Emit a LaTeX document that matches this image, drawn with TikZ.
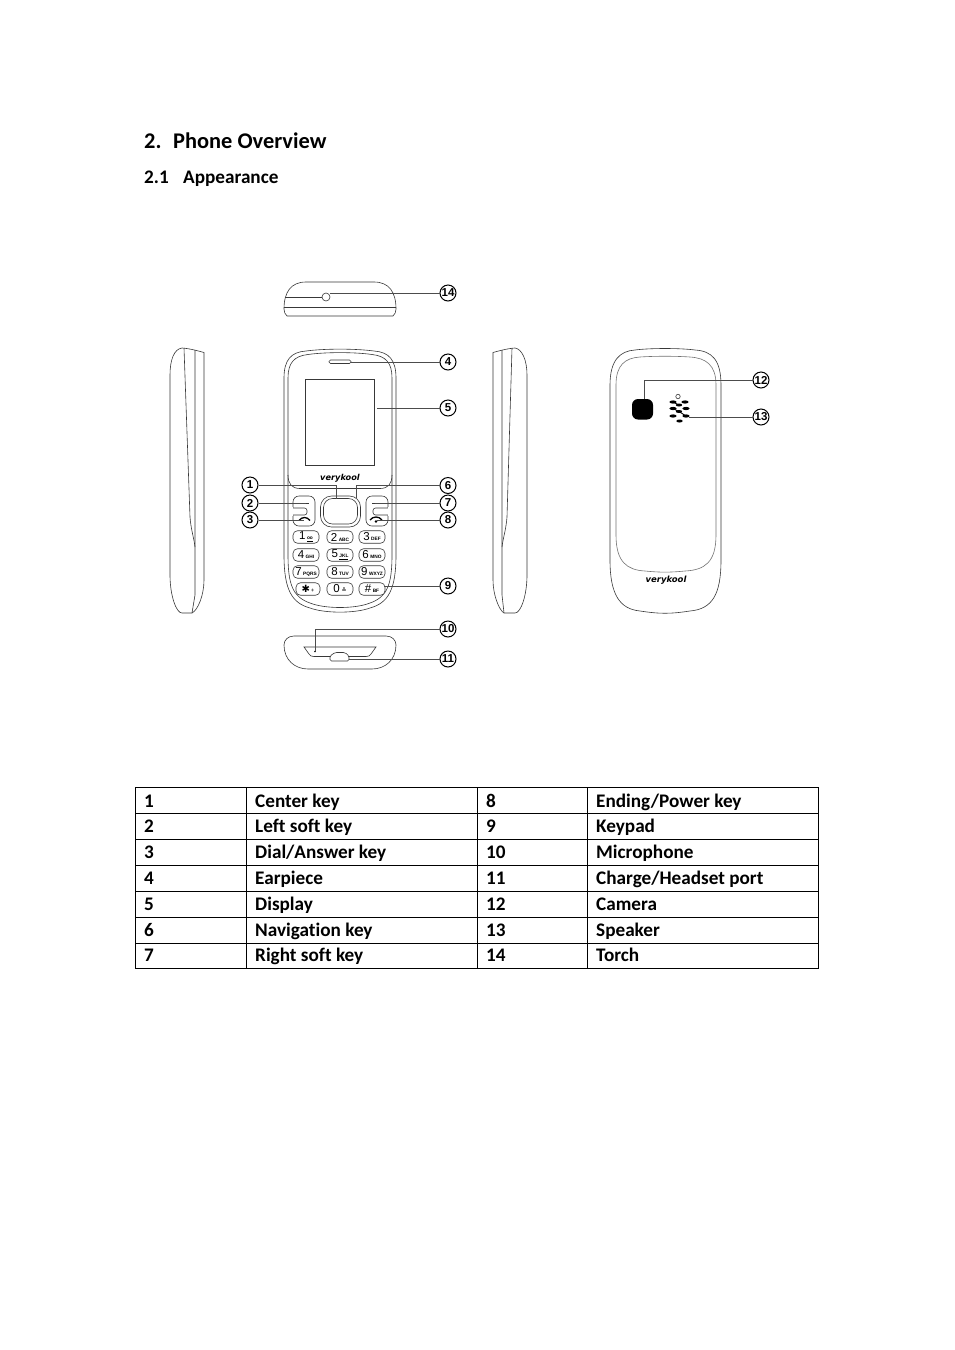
\documentclass[tikz,border=0pt]{standalone}
\usepackage{fontspec}
\setmainfont{Carlito}[Ligatures=NoCommon]
\newfontfamily\logofont{DejaVu Sans}
\newfontfamily\numfont{Liberation Sans}
\usetikzlibrary{calc}
\tikzset{
  ln/.style={draw=black!78,line width=.6pt},
  lead/.style={draw=black!70,line width=.7pt},
  callout/.style={circle,draw=black,line width=1pt,fill=white,minimum size=16pt,inner sep=0pt,font=\fontsize{11.5}{11}\numfont\bfseries},
  cell/.style={anchor=base west,inner sep=0pt,font=\fontsize{19.2}{20}\selectfont\bfseries},
  keycap/.style={draw=black!78,line width=.6pt,rounded corners=4.5pt,minimum width=26pt,minimum height=12.5pt,inner sep=0pt,fill=white,font=\fontsize{11.5}{10}\numfont},
  logo/.style={inner sep=0pt,font=\fontsize{8.2}{9}\logofont\bfseries\itshape},
}
\newcommand{\kl}[2]{#1\hspace{1.5pt}{\fontsize{4.8}{5}\selectfont\bfseries #2}}
\begin{document}
\begin{tikzpicture}[x=1pt,y=-1pt]
\useasboundingbox (0,0) rectangle (954,1350);
\fill[white] (0,0) rectangle (954,1350);
% headings
\node[cell,font=\fontsize{22.4}{22}\selectfont\bfseries] (h1n) at (144,148) {2.};
\node[cell,font=\fontsize{22.4}{22}\selectfont\bfseries] (h1) at (173,148) {Phone Overview};
\node[cell,font=\fontsize{19.2}{20}\selectfont\bfseries] (h2n) at (144,183) {2.1};
\node[cell,font=\fontsize{19.2}{20}\selectfont\bfseries] (h2) at (183,183) {Appearance};

% top view
\draw[ln] (284,309) .. controls (284,292) and (291,282) .. (306,282) -- (374,282) .. controls (389,282) and (396,292) .. (396,309) .. controls (396,312) and (395,314) .. (393,316) -- (287,316) .. controls (285,314) and (284,312) .. (284,309) -- cycle;
\draw[ln] (285,297) -- (322,297);
\draw[ln] (326,297) circle (4);
\draw[ln] (284,307.5) -- (396,307.5);

% left side view
\draw[ln] (204,352.5) .. controls (192,349) and (184,348) .. (182,348) .. controls (174,349) and (170,360) .. (170,375) -- (170,575) .. controls (170,595) and (176,613) .. (182,613) -- (192,613) .. controls (198,610) and (204,595) .. (204,580) -- cycle;
\draw[ln] (184,348) -- (190,517) .. controls (191,530) and (194,538) .. (195,547);
\draw[ln] (195,350) -- (195,595) -- (192,613);

% right side view
\draw[ln] (493,352.5) .. controls (505,349) and (513,348) .. (515,348) .. controls (522,349) and (527,360) .. (527,375) -- (527,575) .. controls (527,595) and (521,613) .. (515,613) -- (504,613) .. controls (499,610) and (493,595) .. (493,580) -- cycle;
\draw[ln] (512,348) -- (507,517) .. controls (506,530) and (503,538) .. (502,547);
\draw[ln] (502,350) -- (502,595) -- (504,613);

% front view
\draw[ln] (284,378) .. controls (284,360) and (291,352) .. (306,351) .. controls (325,348.5) and (355,348.5) .. (374,351) .. controls (389,352) and (396,360) .. (396,378) -- (396,555) .. controls (396,590) and (388,603) .. (370,608) .. controls (355,613.5) and (325,613.5) .. (310,608) .. controls (292,603) and (284,590) .. (284,555) -- cycle;
\draw[ln] (288,378) .. controls (288,363) and (294,356) .. (308,354.5) .. controls (325,352) and (355,352) .. (372,354.5) .. controls (386,356) and (392,363) .. (392,378) -- (392,555) .. controls (392,585) and (387,597) .. (370,603) .. controls (355,609) and (325,609) .. (310,603) .. controls (293,597) and (288,585) .. (288,555) -- cycle;
\draw[ln] (288,475) .. controls (288,484) and (292,488.5) .. (300,488.5) -- (380,488.5) .. controls (388,488.5) and (392,484) .. (392,475);
\draw[ln,rounded corners=1.5pt] (329,360) rectangle (351,363.5);
\node[draw=black!78,line width=.6pt,inner sep=0pt,minimum width=69.5pt,minimum height=86pt] (screen) at (340,422) {};
\node[logo] (flogo) at (340,478) {verykool};

% soft keys
\draw[ln,rounded corners=6pt] (293,496) rectangle (315,526);
\draw[ln,rounded corners=6pt] (366,496) rectangle (388,526);
\draw[ln,fill=white,rounded corners=2.5pt] (292,508) -- (307,508) -- (307,515) -- (292,515);
\draw[ln,fill=white,rounded corners=2.5pt] (389,508) -- (373,508) -- (373,515) -- (389,515);
\fill[white] (291,507) rectangle (293.0,516);
\fill[white] (388.0,507) rectangle (390,516);
\draw[ln,line width=.9pt] (300,503.5) -- (309,503.5);
\draw[ln,line width=.9pt] (372,503.5) -- (385,503.5);
\draw[draw=black,line width=1.3pt] (299,520.5) .. controls (302,516.5) and (307,516.5) .. (310,520.5);
\draw[draw=black,line width=1.3pt] (370,520) .. controls (373,516) and (379,516) .. (382,520);
\fill[black] (376,521.5) circle (1.3);
% nav
\draw[ln,rounded corners=11pt] (320.5,496) rectangle (360.5,527);
\draw[ln,rounded corners=9pt] (323.5,498.5) rectangle (357.5,524);

% keypad
\node[keycap] (k1) at (306,537) {\kl{1}{\underline{oo}}};
\node[keycap] (k2) at (340,537) {\kl{2}{ABC}};
\node[keycap] (k3) at (372,537) {\kl{3}{DEF}};
\node[keycap] (k4) at (306,555) {\kl{4}{GHI}};
\node[keycap] (k5) at (340,555) {\kl{5}{\underline{JKL}}};
\node[keycap] (k6) at (372,555) {\kl{6}{MNO}};
\node[keycap] (k7) at (306,572) {\kl{7}{PQRS}};
\node[keycap] (k8) at (340,572) {\kl{8}{TUV}};
\node[keycap] (k9) at (372,572) {\kl{9}{WXYZ}};
\node[keycap,minimum width=24pt] (kstar) at (308,589) {{\logofont\fontsize{10}{10}\selectfont ✱}{\fontsize{6}{6}\selectfont\,+}};
\node[keycap] (k0) at (340,589) {0\hspace{2pt}{\logofont\fontsize{6}{6}\selectfont ≚}};
\node[keycap] (khash) at (372,589) {\kl{\#}{BF}};

% bottom view
\draw[ln] (284,645) .. controls (284,640) and (288,636) .. (294,636) -- (386,636) .. controls (392,636) and (396,640) .. (396,645) .. controls (396,660) and (385,669) .. (372,669) -- (308,669) .. controls (295,669) and (284,660) .. (284,645) -- cycle;
\draw[ln] (304,647) -- (376,647) -- (371,654) .. controls (370,656) and (368,656.5) .. (366,656.5) -- (314,656.5) .. controls (312,656.5) and (310,656) .. (309,654) -- cycle;
\draw[ln,fill=white,rounded corners=1.5pt] (330,661) -- (330,656) -- (335,652.5) -- (345,652.5) -- (349,656) -- (349,661) -- cycle;
\fill (315,651.5) circle (.9);

% back view
\draw[ln] (610,385) .. controls (610,360) and (620,351) .. (635,350) .. controls (650,348) and (680,348) .. (695,350) .. controls (712,351) and (721,360) .. (721,385) -- (721,560) .. controls (721,595) and (712,609) .. (690,611) .. controls (670,614) and (660,614) .. (640,611) .. controls (620,609) and (610,595) .. (610,560) -- cycle;
\draw[ln,draw=black!55] (616,385) .. controls (616,365) and (625,358) .. (640,357) .. controls (655,356) and (675,356) .. (690,357) .. controls (706,358) and (716,365) .. (716,385) -- (716,535) .. controls (716,562) and (705,570) .. (685,571) .. controls (670,572.5) and (660,572.5) .. (645,571) .. controls (627,570) and (616,562) .. (616,535) -- cycle;
\fill[black,rounded corners=6pt] (632,399) rectangle (653,419.5);
\draw[ln] (678,396.5) circle (2.2);
\foreach \p/\q in {673/402,685/402,673/408.5,686/408.5,673/416,686/416}{
  \fill[black] (\p,\q) ellipse (3.6 and 1.6);}
\foreach \p/\q in {679/405,679/411.5,679.5/421}{
  \fill[black] (\p,\q) ellipse (3.2 and 1.5);}
\draw[black,line width=.9pt] (673,402) -- (679,405) (679,411.5) -- (686,416) (673,408.5) -- (679,411.5);
\node[logo,font=\fontsize{8.5}{9}\logofont\bfseries\itshape] (blogo) at (666,580) {verykool};

% callouts
\node[callout] (c14) at (448,293) {14};
\node[callout] (c4) at (448,362) {4};
\node[callout] (c5) at (448,408) {5};
\node[callout] (c1) at (250,485) {1};
\node[callout] (c2) at (250,503) {2};
\node[callout] (c3) at (250,520) {3};
\node[callout] (c6) at (448,485.5) {6};
\node[callout] (c7) at (448,503) {7};
\node[callout] (c8) at (448,520) {8};
\node[callout] (c9) at (448,586) {9};
\node[callout] (c10) at (448,629) {10};
\node[callout] (c11) at (448,659) {11};
\node[callout] (c12) at (761,380) {12};
\node[callout] (c13) at (761,417) {13};

\coordinate (t14) at (330,293);
\coordinate (t4) at (351,362);
\coordinate (t5) at (377,408);
\coordinate (t1) at (336,499);
\coordinate (t2) at (306,503);
\coordinate (t3) at (304,520);
\coordinate (t6) at (356,498);
\coordinate (t7) at (375,503);
\coordinate (t8) at (377,520);
\coordinate (t9) at (384,586);
\coordinate (t10) at (315,651);
\coordinate (t11) at (349,659);
\coordinate (t12) at (644,399);
\coordinate (t13) at (689,417);

\draw[lead] (c14) -- (t14);
\draw[lead] (c4) -- (t4);
\draw[lead] (c5) -- (t5);
\draw[lead] (c1) -- (t1 |- c1) -- (t1);
\draw[lead] (c2) -- (t2);
\draw[lead] (c3) -- (t3);
\draw[lead] (c6) -- (t6 |- c6) -- (t6);
\draw[lead] (c7) -- (t7);
\draw[lead] (c8) -- (t8);
\draw[lead] (c9) -- (t9);
\draw[lead] (c10) -- (t10 |- c10) -- (t10);
\draw[lead] (c11) -- (t11);
\draw[lead] (c12) -- (t12 |- c12) -- (t12);
\draw[lead] (c13) -- (t13);

% table
\draw[black,line width=.8pt] (135.5,787.5) rectangle (818.5,968.5);
\foreach \y in {813.5,839.5,865.5,891.5,917,943}{\draw[black,line width=.8pt] (135.5,\y) -- (818.5,\y);}
\foreach \x in {246.5,477.5,587.5}{\draw[black,line width=.8pt] (\x,787.5) -- (\x,968.5);}
\foreach \i/\a/\b/\c/\d/\y in {a/1/Center key/8/Ending\slash Power key/807,b/2/Left soft key/9/Keypad/832.7,c/3/Dial\slash Answer key/10/Microphone/858.5,d/4/Earpiece/11/Charge\slash Headset port/884.4,e/5/Display/12/Camera/910.2,f/6/Navigation key/13/Speaker/936,g/7/Right soft key/14/Torch/961.7}{
  \node[cell] (r\i1) at (144,\y) {\a};
  \node[cell] (r\i2) at (255,\y) {\b};
  \node[cell] (r\i3) at (486,\y) {\c};
  \node[cell] (r\i4) at (596,\y) {\d};
}
\end{tikzpicture}
\end{document}
